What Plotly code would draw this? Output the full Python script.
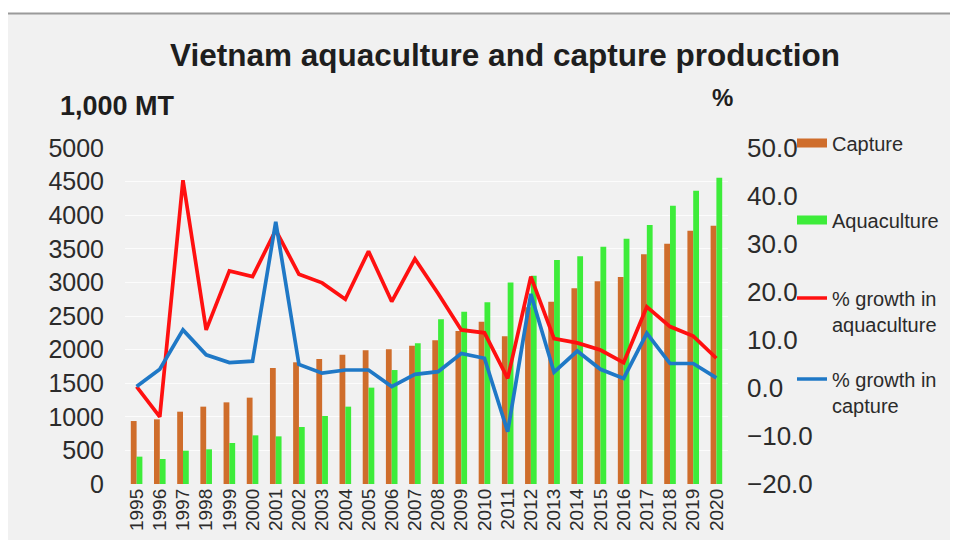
import plotly.graph_objects as go

years = [str(y) for y in range(1995, 2021)]
capture = [937, 962, 1076, 1151, 1215, 1285, 1726, 1811, 1860, 1925, 1990, 2004, 2059, 2138,
           2277, 2416, 2197, 2630, 2713, 2912, 3016, 3080, 3418, 3576, 3770, 3844]
aquaculture = [407, 372, 496, 516, 610, 724, 709, 848, 1012, 1151, 1434, 1696, 2093, 2451,
               2564, 2704, 2997, 3100, 3333, 3388, 3532, 3651, 3854, 4142, 4365, 4558]
growth_aqua = [0.3, -6.0, 43.3, 12.1, 24.4, 23.2, 32.9, 23.7, 21.9, 18.5, 28.5, 18.0, 26.9, 19.7,
               12.1, 11.5, 2.0, 23.2, 10.3, 9.4, 7.9, 5.3, 16.9, 12.8, 10.8, 6.2]
growth_capt = [0.3, 3.9, 12.1, 6.9, 5.3, 5.6, 34.6, 4.9, 3.1, 3.75, 3.75, 0.3, 2.85, 3.4,
               7.2, 6.2, -9.1, 19.6, 3.3, 7.7, 3.9, 2.0, 11.4, 5.1, 5.1, 2.1]

C_ORANGE = "#cf6d2b"
C_GREEN = "#3dec3a"
C_RED = "#ff1010"
C_BLUE = "#1f78c6"
FONT = "Liberation Sans, Arial, sans-serif"
TXT = "#2b2b2b"

fig = go.Figure()
fig.add_trace(go.Bar(x=years, y=capture, name="Capture", marker_color=C_ORANGE,
                     marker_line_width=0, showlegend=False))
fig.add_trace(go.Bar(x=years, y=aquaculture, name="Aquaculture", marker_color=C_GREEN,
                     marker_line_width=0, showlegend=False))
fig.add_trace(go.Scatter(x=years, y=growth_aqua, name="% growth in<br>aquaculture", mode="lines",
                         line=dict(color=C_RED, width=3.7), yaxis="y2", legend="legend3"))
fig.add_trace(go.Scatter(x=years, y=growth_capt, name="% growth in<br>capture", mode="lines",
                         line=dict(color=C_BLUE, width=3.7), yaxis="y2", legend="legend4"))
# legend swatches for bars (wide rectangles as in the reference)
fig.add_trace(go.Scatter(x=[None], y=[None], name="Capture", mode="lines",
                         line=dict(color=C_ORANGE, width=9), legend="legend"))
fig.add_trace(go.Scatter(x=[None], y=[None], name="Aquaculture", mode="lines",
                         line=dict(color=C_GREEN, width=9), legend="legend2"))

# page body has an 8px margin; map reference screen pixels to figure pixels
OX, OY = 8, 8
W, H = 950, 532
L = 125 - OX
T = 148 - OY
B = H - (484 - OY)
R = W - (728 - OX)
pw, ph = W - L - R, H - T - B


def px(x):
    return (x - OX - L) / pw


def py(y):
    return ((484 - OY) - (y - OY)) / ph


leg_common = dict(x=px(792), xanchor="left", yanchor="middle", bgcolor="rgba(0,0,0,0)",
                  borderwidth=0, font=dict(family=FONT, size=20, color=TXT), itemwidth=30)

fig.update_layout(
    width=W, height=H,
    margin=dict(l=L, r=R, t=T, b=B, autoexpand=False),
    paper_bgcolor="#f1f1f1",
    plot_bgcolor="#f1f1f1",
    barmode="group",
    bargap=0.5,
    bargroupgap=0,
    font=dict(family=FONT, color=TXT),
    title=dict(text="<b>Vietnam aquaculture and capture production</b>",
               x=(505 - OX) / W, xanchor="center", y=1 - (55 - OY) / H, yanchor="middle",
               font=dict(family=FONT, size=31.5, color="#1e1e1e")),
    xaxis=dict(type="category", tickangle=-90, tickfont=dict(family=FONT, size=19, color=TXT),
               showgrid=False, showline=False, zeroline=False, ticks="", automargin=False),
    yaxis=dict(range=[0, 5000], dtick=500, tickfont=dict(family=FONT, size=25, color=TXT),
               showgrid=True, gridcolor="rgba(255,255,255,0.8)", gridwidth=1,
               zeroline=False, showline=False, ticklabelstandoff=20, automargin=False),
    yaxis2=dict(range=[-20, 50], dtick=10, tickformat=".1f", overlaying="y", side="right",
                tickfont=dict(family=FONT, size=26, color=TXT), showgrid=False,
                zeroline=False, showline=False, ticklabelstandoff=18, automargin=False),
    legend=dict(**leg_common, y=py(143)),
    legend2=dict(**leg_common, y=py(220)),
    legend3=dict(**leg_common, y=py(311), valign="top"),
    legend4=dict(**leg_common, y=py(392), valign="top"),
    shapes=[
        dict(type="rect", xref="paper", yref="paper", x0=px(-20), x1=px(7), y0=py(H + 40), y1=py(-20),
             fillcolor="white", line=dict(width=0), layer="below"),
        dict(type="rect", xref="paper", yref="paper", x0=px(-20), x1=px(W + 40), y0=py(13), y1=py(-20),
             fillcolor="white", line=dict(width=0), layer="below"),
        dict(type="line", xref="paper", yref="paper", x0=px(7), x1=px(W + 40), y0=py(13.5), y1=py(13.5),
             line=dict(color="#9a9a9a", width=2), layer="below"),
    ],
    annotations=[
        dict(text="<b>1,000 MT</b>", xref="paper", yref="paper", x=px(58), y=py(106),
             xanchor="left", yanchor="middle", showarrow=False,
             font=dict(family=FONT, size=27, color="#1e1e1e")),
        dict(text="<b>%</b>", xref="paper", yref="paper", x=px(722), y=py(97),
             xanchor="center", yanchor="middle", showarrow=False,
             font=dict(family=FONT, size=24, color="#1e1e1e")),
    ],
)

fig.write_html("out.html")
